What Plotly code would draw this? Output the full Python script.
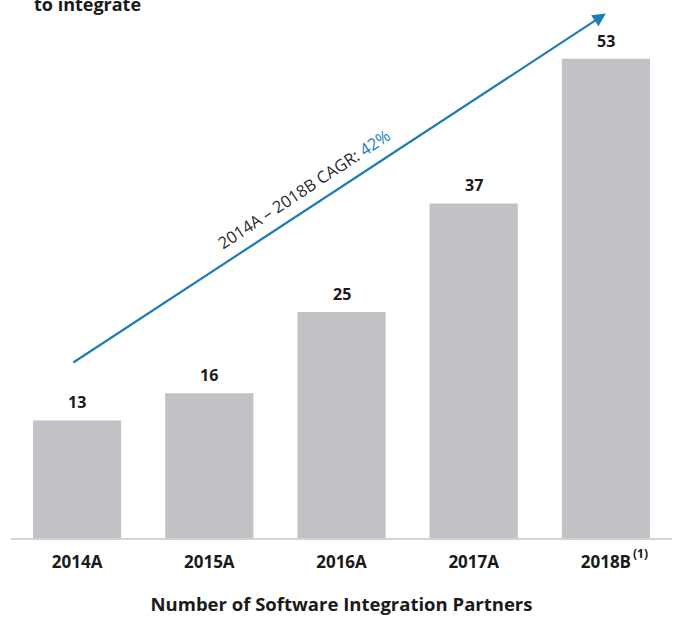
import plotly.graph_objects as go

years = ['2014A', '2015A', '2016A', '2017A', '2018B']
partners = [13, 16, 25, 37, 53]
cagr_label = '2014A – 2018B CAGR: '
cagr_value = '42%'

BAR_COLOR = '#c1c2c6'
BLUE = '#1f7db5'
FONT = 'Open Sans'

fig = go.Figure()

fig.add_trace(go.Bar(
    x=years,
    y=partners,
    marker=dict(color=BAR_COLOR, line=dict(width=0)),
    hoverinfo='skip',
))

# value labels above each bar
for yr, v in zip(years, partners):
    fig.add_annotation(
        x=yr, y=v, text=f'<b>{v}</b>', showarrow=False,
        yanchor='bottom', yshift=5,
        font=dict(family=FONT, size=16, color='#1a1a1a'),
    )

# growth arrow
fig.add_annotation(
    x=4.0, y=58.0, ax=-0.04, ay=19.3,
    xref='x', yref='y', axref='x', ayref='y',
    text='', showarrow=True,
    arrowhead=2, arrowsize=1.2, arrowwidth=2.2, arrowcolor=BLUE,
)

fig.add_annotation(
    x=1.72, y=38.6, xref='x', yref='y',
    text=f'{cagr_label}<span style="color:{BLUE}">{cagr_value}</span>',
    showarrow=False, textangle=-33.4,
    font=dict(family=FONT, size=16.5, color='#2a2a2a'),
)

# footnote marker on last category
fig.add_annotation(
    x=4, y=0, xref='x', yref='paper', text='<b>(1)</b>', showarrow=False,
    xanchor='left', yanchor='middle', xshift=25, yshift=-15,
    font=dict(family=FONT, size=12, color='#1a1a1a'),
)

# cut-off headline at top
fig.add_annotation(
    x=0.032, y=0.967, xref='paper', yref='paper',
    text='<b>to integrate</b>', showarrow=False,
    xanchor='left', yanchor='bottom',
    font=dict(family=FONT, size=18, color='#1a1a1a'),
)

fig.update_layout(
    width=675,
    height=621,
    margin=dict(l=11, r=3, t=0, b=83),
    paper_bgcolor='white',
    plot_bgcolor='white',
    showlegend=False,
    bargap=0.333,
    font=dict(family=FONT),
    xaxis=dict(
        range=[-0.5, 4.5],
        tickvals=years,
        ticktext=[f'<b>{y}</b>' for y in years],
        tickfont=dict(family=FONT, size=17, color='#1a1a1a'),
        ticks='outside', ticklen=8, tickcolor='rgba(0,0,0,0)',
        showline=True, linecolor='#d3d3d3', linewidth=1.5,
        showgrid=False,
        title=dict(
            text='<b>Number of Software Integration Partners</b>',
            font=dict(family=FONT, size=18.5, color='#1a1a1a'),
            standoff=26,
        ),
    ),
    yaxis=dict(
        range=[0, 59.5],
        visible=False,
        showgrid=False,
    ),
)

fig.write_html('out.html', config={'displayModeBar': False},
               post_script="document.body.style.margin='0';")
